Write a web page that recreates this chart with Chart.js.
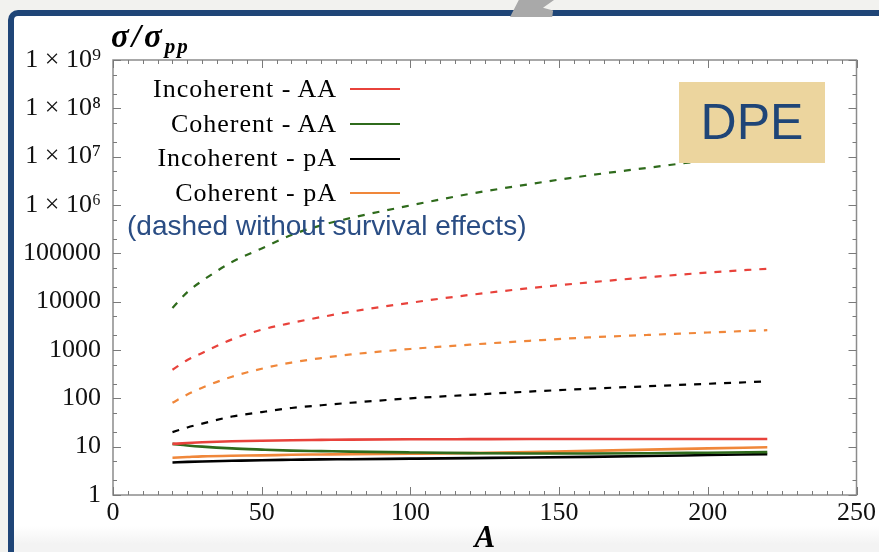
<!DOCTYPE html>
<html><head><meta charset="utf-8">
<script src="https://cdn.jsdelivr.net/npm/chart.js@4.4.1/dist/chart.umd.min.js"></script>
<style>
html,body{margin:0;padding:0;width:879px;height:552px;overflow:hidden;background:#f2f2ef;position:relative;}
#frame{position:absolute;left:8px;top:10px;width:871px;height:542px;box-sizing:border-box;border-left:6px solid #1f4577;border-top:6px solid #1f4577;border-top-left-radius:10px;background:linear-gradient(to bottom,#fff 0,#fff 510px,#f3f3f3 528px,#f3f3f3 100%);}
#arrow{position:absolute;left:510px;top:0;width:44px;height:17px;background:#a9a9a9;clip-path:polygon(20% 0,100% 0,75% 45%,98% 62%,96% 100%,0 100%);}
#c{position:absolute;left:0;top:0;}
.ov{position:absolute;}
#ytitle{left:111px;top:20px;font:bold italic 33px "Liberation Serif",serif;line-height:1;letter-spacing:3px;color:#000;white-space:nowrap;}
#ytitle sub{font-size:21px;vertical-align:-6px;letter-spacing:2px;}
#legend{top:72px;right:479px;display:grid;grid-template-columns:auto 50px;column-gap:13px;font:26px "Liberation Serif",serif;letter-spacing:1px;color:#000;}
#legend .t{text-align:right;line-height:34.7px;height:34.7px;white-space:nowrap;}
#legend .s{height:34.7px;display:flex;align-items:center;}
#legend .s i{display:block;width:50px;height:2px;}
#note{left:127px;top:212px;font:28px "Liberation Sans",Arial,sans-serif;line-height:1;color:#2a4d84;white-space:nowrap;}
#dpe{left:679px;top:82px;width:146px;height:81px;background:#ecd59e;color:#1f4577;font:50px "Liberation Sans",Arial,sans-serif;line-height:81px;text-align:center;}
</style>
</head>
<body>
<div id="frame"></div>
<div id="arrow"></div>
<canvas id="c" width="879" height="552"></canvas>
<div class="ov" id="ytitle">σ/σ<sub>pp</sub></div>
<div class="ov" id="legend"></div>
<div class="ov" id="note">(dashed without survival effects)</div>
<div class="ov" id="dpe">DPE</div>
<script>
// ---- data ----
const A = [20, 25, 30, 40, 50, 60, 70, 80, 100, 120, 140, 160, 180, 200, 220];

const seriesNames = ['Incoherent - AA', 'Coherent - AA', 'Incoherent - pA', 'Coherent - pA'];
const seriesColors = ['#e8423b', '#2f6b1c', '#000000', '#f0873a'];

// with survival effects (solid)
const incohAA = [11.4, 11.9, 12.3, 12.9, 13.3, 13.6, 13.8, 14.0, 14.2, 14.3, 14.4, 14.4, 14.4, 14.4, 14.4];
const cohAA   = [11.4, 10.6, 10.0, 9.2, 8.7, 8.3, 8.1, 7.9, 7.6, 7.35, 7.2, 7.2, 7.3, 7.5, 7.7];
const incohpA = [4.7, 4.85, 4.95, 5.1, 5.25, 5.35, 5.45, 5.5, 5.65, 5.8, 5.95, 6.15, 6.4, 6.7, 7.0];
const cohpA   = [5.9, 6.1, 6.3, 6.5, 6.6, 6.8, 6.9, 7.0, 7.15, 7.35, 7.7, 8.2, 8.7, 9.2, 9.7];

// without survival effects (dashed)
const incohAA_noS = [390, 620, 870, 1660, 2630, 3630, 4800, 6200, 9500, 13800, 19000, 25000, 32000, 40000, 48000];
const cohAA_noS   = [7400, 15800, 27000, 66000, 126000, 240000, 380000, 540000, 980000, 1700000, 2700000, 4100000, 5900000, 8500000, 12000000];
const incohpA_noS = [20, 25, 30, 42, 52, 63, 72, 81, 100, 118, 138, 158, 178, 200, 224];
const cohpA_noS   = [81, 120, 166, 280, 410, 550, 680, 810, 1050, 1290, 1550, 1820, 2050, 2300, 2570];

const xTickValues = [0, 50, 100, 150, 200, 250];
const yTickValues = [1, 10, 100, 1000, 10000, 100000, 1e6, 1e7, 1e8, 1e9];
const yTickLabels = ['1', '10', '100', '1000', '10000', '100000', '1 × 10⁶', '1 × 10⁷', '1 × 10⁸', '1 × 10⁹'];
const xTitle = 'A';

// ---- build ----
const solid = [incohAA, cohAA, incohpA, cohpA];
const dashed = [incohAA_noS, cohAA_noS, incohpA_noS, cohpA_noS];
const pts = arr => A.map((a, i) => ({x: a, y: arr[i]}));

const datasets = [];
dashed.forEach((arr, k) => datasets.push({
  label: seriesNames[k] + ' (no survival)', data: pts(arr), borderColor: seriesColors[k],
  borderWidth: 2.2, borderDash: [7, 8], pointRadius: 0, fill: false,
  cubicInterpolationMode: 'monotone', inLegend: false
}));
solid.forEach((arr, k) => datasets.push({
  label: seriesNames[k], data: pts(arr), borderColor: seriesColors[k],
  borderWidth: 2.6, pointRadius: 0, fill: false,
  cubicInterpolationMode: 'monotone', inLegend: true
}));

const serif = '"Liberation Serif", "Times New Roman", serif';

const framePlugin = {
  id: 'frame',
  beforeDatasetsDraw(chart) {
    const {ctx, chartArea: {left, right, top, bottom}, scales: {x, y}} = chart;
    ctx.save();
    ctx.strokeStyle = '#8c8c8c'; ctx.lineWidth = 1.5;
    ctx.strokeRect(left, top, right - left, bottom - top);
    ctx.lineWidth = 1; ctx.strokeStyle = '#7a7a7a';
    ctx.beginPath();
    for (let v = x.min; v <= x.max; v += 5) {
      const px = Math.round(x.getPixelForValue(v)) + 0.5;
      const L = (v % 50 === 0) ? 8 : 4;
      ctx.moveTo(px, bottom); ctx.lineTo(px, bottom - L);
      ctx.moveTo(px, top); ctx.lineTo(px, top + L);
    }
    for (let n = 0; n <= 9; n++) {
      for (const m of [1, 2, 5]) {
        const v = m * Math.pow(10, n);
        if (v > y.max) continue;
        const py = Math.round(y.getPixelForValue(v)) + 0.5;
        const L = m === 1 ? 8 : 4;
        ctx.moveTo(left, py); ctx.lineTo(left + L, py);
        ctx.moveTo(right, py); ctx.lineTo(right - L, py);
      }
    }
    ctx.stroke();
    ctx.restore();
  }
};

const chart = new Chart(document.getElementById('c'), {
  type: 'line',
  data: {datasets},
  options: {
    responsive: false, animation: false, devicePixelRatio: 1,
    layout: {padding: {left: 0, top: 60, right: 19, bottom: 0}},
    plugins: {legend: {display: false}, tooltip: {enabled: false}, title: {display: false}},
    scales: {
      x: {
        type: 'linear', min: 0, max: 250,
        afterBuildTicks: s => { s.ticks = xTickValues.map(v => ({value: v})); },
        afterFit: s => { s.height = 57; },
        grid: {display: false, drawTicks: false}, border: {display: false},
        ticks: {padding: 3, color: '#111', autoSkip: false, maxRotation: 0, font: {family: serif, size: 26}},
        title: {display: true, text: xTitle, color: '#000', padding: {top: 0, bottom: 1},
                font: {family: serif, size: 31, style: 'italic', weight: 'bold', lineHeight: 0.8}}
      },
      y: {
        type: 'logarithmic', min: 1, max: 1e9,
        afterBuildTicks: s => { s.ticks = yTickValues.map(v => ({value: v})); },
        afterFit: s => { s.width = 113; },
        grid: {display: false, drawTicks: false}, border: {display: false},
        ticks: {padding: 12, color: '#111', autoSkip: false, font: {family: serif, size: 26},
                callback: (v, i) => yTickLabels[i]}
      }
    }
  },
  plugins: [framePlugin]
});

// HTML legend built from the chart's datasets
const leg = document.getElementById('legend');
chart.data.datasets.filter(d => d.inLegend).forEach(d => {
  const t = document.createElement('div'); t.className = 't'; t.textContent = d.label;
  const s = document.createElement('div'); s.className = 's';
  const i = document.createElement('i'); i.style.background = d.borderColor; s.appendChild(i);
  leg.appendChild(t); leg.appendChild(s);
});
</script>
</body></html>
